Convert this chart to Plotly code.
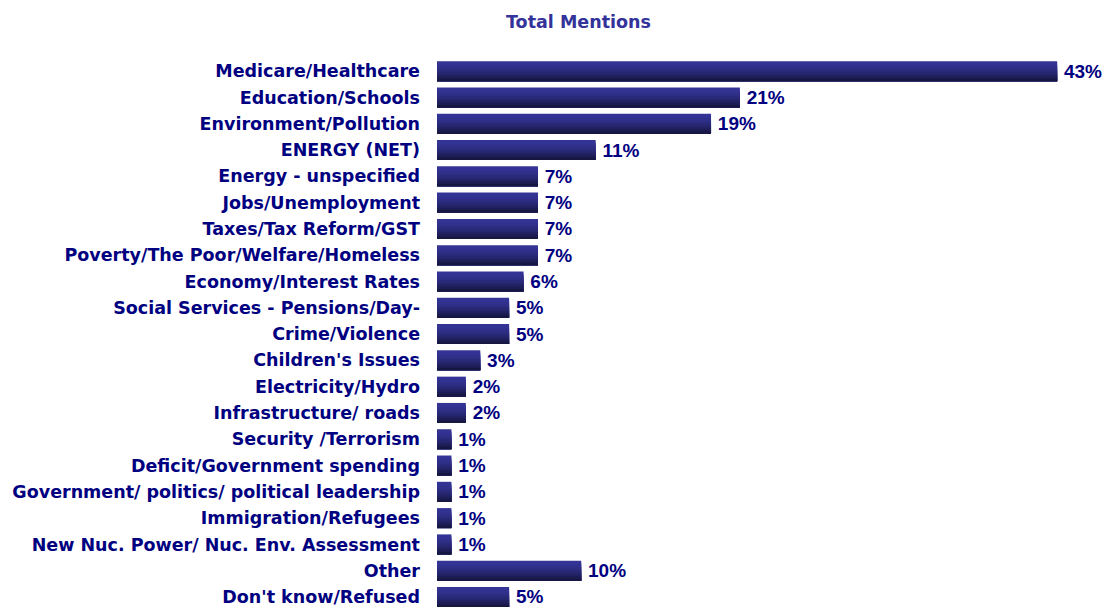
import plotly.graph_objects as go

categories = ["Medicare/Healthcare", "Education/Schools", "Environment/Pollution", "ENERGY (NET)",
              "Energy - unspecified", "Jobs/Unemployment", "Taxes/Tax Reform/GST",
              "Poverty/The Poor/Welfare/Homeless", "Economy/Interest Rates",
              "Social Services - Pensions/Day-", "Crime/Violence", "Children's Issues",
              "Electricity/Hydro", "Infrastructure/ roads", "Security /Terrorism",
              "Deficit/Government spending", "Government/ politics/ political leadership",
              "Immigration/Refugees", "New Nuc. Power/ Nuc. Env. Assessment", "Other",
              "Don't know/Refused"]
values = [43, 21, 19, 11, 7, 7, 7, 7, 6, 5, 5, 3, 2, 2, 1, 1, 1, 1, 1, 10, 5]
value_labels = [f"\u2009{v}%" for v in values]

lab_font = "DejaVu Sans, Verdana, sans-serif"
num_font = "Liberation Sans, Arial, sans-serif"

# fake a vertical gradient: overlapping bands, each reaching to the bar bottom
n_bands = 9
bar_w = 0.76
band_w = bar_w / n_bands
top_rgb = (52, 52, 150)
bot_rgb = (22, 22, 66)

fig = go.Figure()
for k in range(n_bands):
    t = (k / (n_bands - 1)) ** 1.6
    c = tuple(round(a + (b - a) * t) for a, b in zip(top_rgb, bot_rgb))
    fig.add_trace(go.Bar(
        x=values, y=categories, orientation="h",
        width=bar_w - k * band_w, offset=-bar_w / 2 + k * band_w,
        marker=dict(color="rgb(%d,%d,%d)" % c, line=dict(width=0)),
        textposition="none",
        showlegend=False, hoverinfo="skip",
    ))

# value labels on an invisible full-width bar
fig.add_trace(go.Bar(
    x=values, y=categories, orientation="h",
    width=bar_w, offset=-bar_w / 2,
    marker=dict(color="rgba(0,0,0,0)", line=dict(width=0)),
    text=value_labels, textposition="outside", constraintext="none",
    textfont=dict(family=num_font, size=19, color="#000080", weight="bold"),
    cliponaxis=False, showlegend=False, hoverinfo="skip",
))

fig.update_layout(
    width=1105, height=608,
    barmode="overlay",
    margin=dict(l=437, r=19, t=58, b=0),
    plot_bgcolor="white", paper_bgcolor="white",
    xaxis=dict(range=[0, 45], visible=False),
    yaxis=dict(range=[20.42, -0.5], showgrid=False, zeroline=False, showline=False,
               ticks="", ticklabelstandoff=16,
               tickfont=dict(family=lab_font, size=17.5, color="#000080", weight="bold")),
    annotations=[dict(text="<b>Total Mentions</b>", x=(578 - 437) / 649, y=1 + (58 - 22) / 550,
                      xref="paper", yref="paper", yanchor="middle", xanchor="center",
                      showarrow=False, font=dict(family=lab_font, size=17.5, color="#333399"))],
)

fig.write_html("out.html", config={"displayModeBar": False},
               post_script="document.body.style.margin='0';")
